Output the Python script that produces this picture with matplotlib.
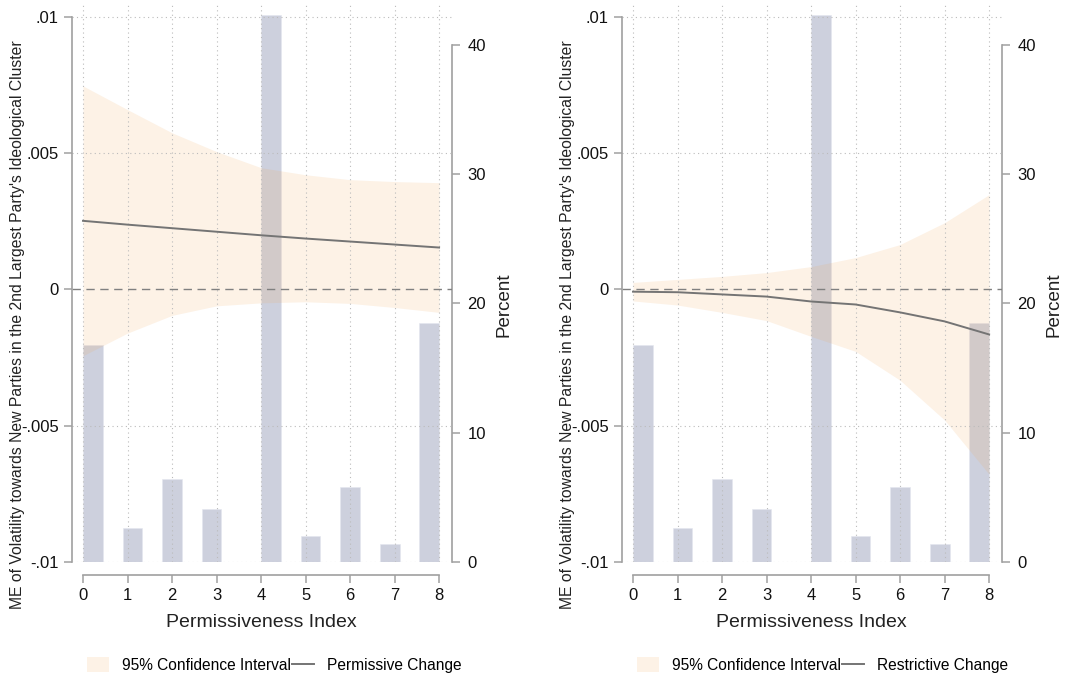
import numpy as np
import matplotlib
matplotlib.use("Agg")
import matplotlib.pyplot as plt
from matplotlib.patches import Patch
from matplotlib.lines import Line2D

plt.rcParams['font.family'] = ['Liberation Sans', 'DejaVu Sans']

# ---- data ----
perm_index = np.arange(9)
hist_pct = [16.8, 2.6, 6.4, 4.1, 42.3, 2.0, 5.8, 1.4, 18.5]   # share of obs at each index value

me_perm = [0.00252, 0.00238, 0.00225, 0.00212, 0.00199, 0.00187, 0.00176, 0.00165, 0.00154]
hi_perm = [0.00747, 0.00660, 0.00575, 0.00506, 0.00447, 0.00421, 0.00403, 0.00396, 0.00392]
lo_perm = [-0.00243, -0.00160, -0.00095, -0.00060, -0.00049, -0.00045, -0.00051, -0.00066, -0.00084]

me_restr = [-0.00008, -0.00010, -0.00018, -0.00026, -0.00044, -0.00055, -0.00084, -0.00117, -0.00165]
hi_restr = [0.00026, 0.00037, 0.00048, 0.00062, 0.00084, 0.00117, 0.00165, 0.00245, 0.00348]
lo_restr = [-0.00042, -0.00057, -0.00084, -0.00114, -0.00172, -0.00227, -0.00333, -0.00479, -0.00678]

ylabel = "ME of Volatility towards New Parties in the 2nd Largest Party's Ideological Cluster"
panels = [
    ("Permissive Change", me_perm, hi_perm, lo_perm, 72),
    ("Restrictive Change", me_restr, hi_restr, lo_restr, 622),
]

bar_color = '#b8bccf'
band_color = '#f2a858'
line_color = '#747474'
spine_color = '#a0a0a0'

W, H = 1065, 680
fig = plt.figure(figsize=(W / 100, H / 100), dpi=100)

for name, me, hi, lo, left_px in panels:
    ax = fig.add_axes([left_px / W, (H - 562) / H, 380 / W, 557 / H])
    ax2 = ax.twinx()

    # histogram of the moderator on the right axis (drawn underneath)
    ax2.hist(perm_index, bins=18, range=(0, 8), weights=hist_pct,
             color=bar_color, alpha=0.7, edgecolor='#e4e6ee', linewidth=0.6)
    ax2.set_ylim(0, 43.08)
    ax2.set_yticks([0, 10, 20, 30, 40])
    ax2.set_ylabel("Percent", fontsize=13.5, color='#222222')
    ax2.yaxis.set_label_coords(1.115, 0.461)

    ax.set_zorder(ax2.get_zorder() + 1)
    ax.patch.set_visible(False)

    ax.fill_between(perm_index, lo, hi, color=band_color, alpha=0.15, linewidth=0)
    ax.plot(perm_index, me, color=line_color, linewidth=1.4)
    ax.axhline(0, color='#808080', linestyle=(0, (6, 4)), linewidth=1.0)

    ax.set_xlim(-0.247, 8.29)
    ax.set_ylim(-0.01, 0.01044)
    ax.set_xticks(range(9))
    ax.set_yticks([-0.01, -0.005, 0, 0.005, 0.01])
    ax.set_yticklabels(['-.01', '-.005', '0', '.005', '.01'])
    ax.set_xlabel("Permissiveness Index", fontsize=14, color='#222222')
    ax.xaxis.set_label_coords((261 - 72) / 380, -0.094)
    ax.set_ylabel(ylabel, fontsize=11.3, color='#222222')
    ax.yaxis.set_label_coords(-0.124, 0.427)

    ax.grid(True, linestyle=(0, (1, 3)), color='#bbbbbb', linewidth=0.8)
    ax.yaxis.get_gridlines()[2].set_visible(False)

    for a in (ax, ax2):
        for s in a.spines.values():
            s.set_color(spine_color)
            s.set_linewidth(1.2)
        a.spines['top'].set_visible(False)
        a.tick_params(colors=spine_color, labelcolor='#111111', labelsize=12,
                      length=6, width=1.1)
    ax2.tick_params(pad=5)
    ax.spines['right'].set_visible(False)
    ax2.spines['left'].set_visible(False)
    ax2.spines['bottom'].set_visible(False)
    ax.spines['left'].set_bounds(-0.01, 0.01)
    ax2.spines['right'].set_bounds(0, 40)
    ax.spines['bottom'].set_bounds(0, 8)
    ax.spines['bottom'].set_position(('outward', 9.5))

    handles = [Patch(facecolor='#fdf2e6', edgecolor='none'),
               Line2D([0], [0], color=line_color, linewidth=1.4)]
    ax.legend(handles, ["95% Confidence Interval", name], loc='center left',
              bbox_to_anchor=(0.039, -0.185), ncol=2, frameon=False,
              fontsize=11.2, handlelength=1.4, handleheight=1.1,
              handletextpad=0.85, columnspacing=0.1,
              borderpad=0, borderaxespad=0)

fig.savefig("out.png", dpi=100)
